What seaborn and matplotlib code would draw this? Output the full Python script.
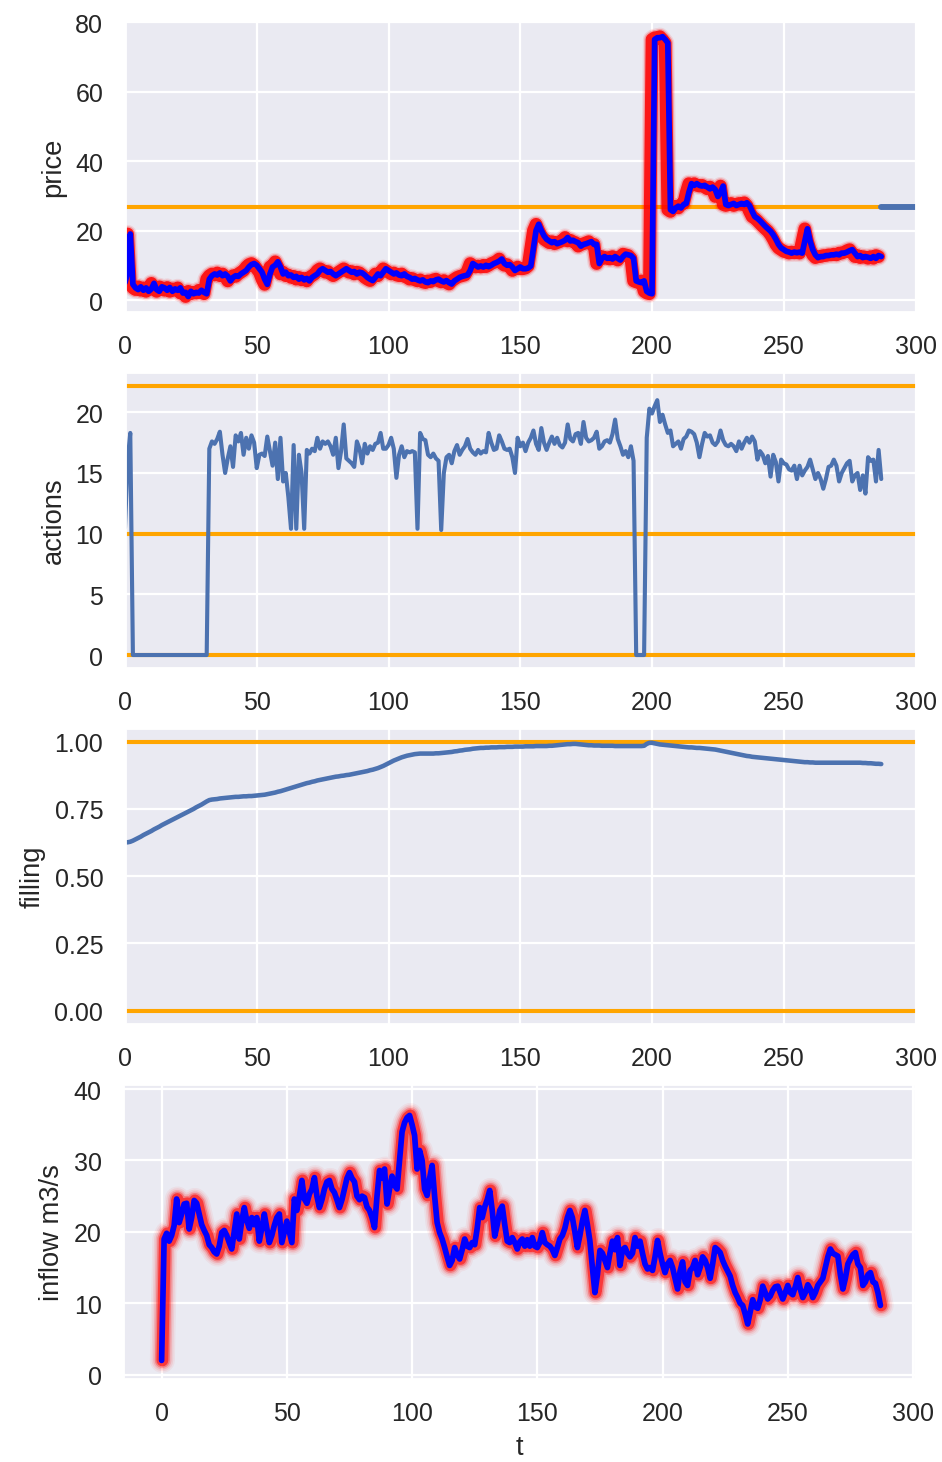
import numpy as np
import pandas as pd
import matplotlib
matplotlib.use("Agg")
import matplotlib.pyplot as plt
import seaborn as sns

# ---- spot price (blue) ----------------------------------------------------
price = [
    5.0, 8.0, 19.0, 4.5, 3.5, 3.0, 3.8, 2.8, 3.5, 2.5, 3.2, 4.8,
    3.0, 2.5, 3.8, 3.5, 2.8, 3.6, 2.5, 3.2, 2.8, 3.5, 2.0, 2.2,
    1.0, 2.5, 1.8, 2.2, 2.0, 2.8, 2.2, 1.8, 6.0, 7.0, 7.5, 7.2,
    7.8, 7.0, 7.5, 6.8, 5.5, 6.5, 7.0, 6.8, 7.5, 8.0, 8.5, 9.5,
    10.2, 10.5, 10.0, 9.0, 8.0, 6.0, 4.5, 7.5, 9.5, 10.0, 11.0, 9.5,
    7.5, 8.0, 7.0, 7.2, 6.5, 6.8, 6.0, 6.5, 5.8, 6.2, 5.5, 6.5,
    7.0, 7.5, 8.5, 9.0, 8.5, 8.0, 8.2, 7.5, 7.0, 7.5, 8.0, 8.5,
    9.0, 8.5, 8.0, 8.2, 7.5, 8.0, 7.8, 7.2, 6.5, 6.0, 5.6, 6.5,
    7.5, 7.0, 8.0, 9.0, 8.5, 8.0, 7.5, 7.8, 7.2, 7.0, 7.5, 6.8,
    6.5, 6.0, 6.2, 5.8, 5.5, 5.8, 5.2, 5.0, 5.5, 5.3, 5.8, 6.0,
    5.5, 5.2, 5.6, 5.0, 4.6, 5.5, 6.0, 6.5, 6.8, 7.0, 7.2, 8.5,
    10.5, 10.0, 9.5, 9.8, 9.5, 10.0, 9.6, 10.0, 10.5, 10.8, 11.2, 11.8,
    10.5, 10.0, 10.2, 9.5, 8.5, 9.0, 9.5, 9.0, 9.0, 9.2, 9.8, 15.0,
    20.0, 21.8, 20.0, 18.5, 17.5, 17.0, 16.5, 16.8, 16.2, 16.5, 16.8, 17.2,
    18.0, 17.0, 17.2, 16.8, 16.5, 15.5, 16.0, 16.2, 16.5, 16.8, 16.0, 16.0,
    10.5, 12.0, 12.5, 12.0, 12.2, 11.8, 12.5, 12.0, 11.5, 12.5, 13.2, 13.0,
    12.8, 12.0, 5.5, 5.2, 5.0, 5.5, 2.5, 2.0, 1.8, 75.0, 75.5, 75.5,
    75.8, 75.0, 74.0, 26.0, 25.5, 26.5, 27.0, 26.5, 27.5, 27.8, 31.0, 33.5,
    33.0, 33.5, 33.0, 32.8, 33.0, 32.5, 32.0, 32.5, 31.8, 29.8, 31.0, 32.8,
    27.5, 27.2, 27.5, 27.8, 27.2, 27.5, 27.8, 27.5, 28.0, 27.2, 25.5, 24.0,
    23.5, 22.8, 22.0, 21.2, 20.5, 19.8, 18.8, 17.5, 16.0, 15.0, 14.5, 14.0,
    13.8, 13.5, 13.8, 13.6, 13.8, 13.5, 17.0, 20.5, 17.0, 14.5, 13.0, 12.2,
    12.5, 12.5, 12.8, 12.8, 13.0, 13.0, 13.2, 13.0, 13.5, 13.5, 13.8, 14.2,
    14.5, 13.5, 12.5, 12.8, 12.2, 12.5, 12.3, 12.0, 12.5, 12.0, 12.8, 12.5,
]
price_ref = 26.8            # reference price level
price_tail_t = [287, 300]   # horizon beyond the simulated period

# ---- turbine actions ------------------------------------------------------
actions = [
    10.5, 16.0, 18.3, 0, 0, 0, 0, 0, 0, 0, 0, 0,
    0, 0, 0, 0, 0, 0, 0, 0, 0, 0, 0, 0,
    0, 0, 0, 0, 0, 0, 0, 0, 17.0, 17.6, 17.4, 17.8,
    18.4, 16.5, 15.0, 16.2, 17.2, 15.5, 18.1, 17.6, 18.3, 16.5, 17.9, 17.0,
    18.1, 17.5, 15.4, 16.5, 16.6, 16.4, 18.0, 16.8, 15.6, 17.5, 14.5, 17.9,
    14.3, 15.0, 13.0, 10.4, 17.3, 10.4, 16.5, 15.0, 10.4, 16.9, 16.6, 17.0,
    16.8, 17.9, 17.0, 17.6, 17.4, 17.6, 17.2, 16.5, 17.9, 15.4, 16.8, 19.0,
    16.2, 16.0, 15.8, 15.5, 17.6, 17.0, 15.8, 17.4, 16.6, 17.2, 16.9, 17.4,
    17.5, 18.3, 17.0, 17.0, 17.3, 17.9, 17.0, 14.6, 16.5, 17.2, 16.3, 16.8,
    16.7, 16.8, 16.7, 10.4, 18.3, 17.8, 17.7, 16.5, 16.3, 16.6, 16.2, 16.0,
    10.3, 15.0, 16.3, 16.5, 15.8, 16.8, 17.3, 16.5, 16.9, 17.2, 17.8, 17.0,
    16.7, 16.5, 16.9, 16.6, 16.8, 16.7, 18.3, 17.5, 16.9, 17.0, 18.1, 17.6,
    17.0, 16.9, 17.0, 16.3, 15.0, 17.9, 17.2, 17.5, 16.8, 17.5, 17.9, 18.5,
    17.4, 16.9, 18.7, 17.5, 16.9, 17.5, 18.0, 17.4, 17.9, 17.3, 17.1, 17.5,
    19.0, 17.8, 17.6, 18.2, 18.3, 17.4, 19.2, 17.9, 17.6, 17.7, 17.9, 18.4,
    17.0, 17.2, 17.6, 17.7, 17.5, 18.2, 19.4, 17.8, 17.2, 16.5, 16.8, 16.3,
    17.2, 16.0, 0, 0, 0, 0, 17.9, 20.3, 19.9, 20.5, 21.0, 19.2,
    19.8, 19.0, 18.3, 18.5, 17.2, 17.4, 17.6, 17.0, 17.8, 18.0, 18.5, 18.4,
    18.2, 17.5, 16.3, 17.4, 18.3, 18.0, 18.1, 17.5, 17.3, 17.6, 18.5, 17.7,
    17.3, 17.2, 17.4, 17.2, 16.8, 17.6, 17.0, 17.5, 17.9, 17.5, 18.0, 17.6,
    16.1, 16.8, 16.5, 15.8, 16.4, 14.7, 16.5, 15.9, 14.3, 16.1, 15.8, 15.7,
    15.3, 15.2, 15.6, 14.5, 15.6, 14.8, 15.2, 15.5, 16.1, 15.3, 14.5, 15.0,
    14.5, 13.7, 14.5, 15.5, 15.6, 16.1, 15.6, 14.3, 15.0, 15.4, 15.8, 16.0,
    14.3, 14.8, 15.0, 13.6, 14.8, 13.3, 16.3, 16.0, 16.1, 14.3, 16.9, 14.5,
]
action_levels = [0, 10, 22.2]   # min, nominal, max turbine flow

# ---- reservoir filling ----------------------------------------------------
filling = [
    0.626, 0.626, 0.628, 0.632, 0.637, 0.642, 0.647, 0.653, 0.658, 0.663, 0.668, 0.674,
    0.679, 0.684, 0.690, 0.695, 0.700, 0.705, 0.710, 0.715, 0.720, 0.725, 0.730, 0.735,
    0.740, 0.745, 0.750, 0.756, 0.761, 0.766, 0.772, 0.778, 0.783, 0.785, 0.786, 0.787,
    0.789, 0.790, 0.791, 0.792, 0.793, 0.794, 0.795, 0.795, 0.796, 0.797, 0.797, 0.798,
    0.798, 0.799, 0.800, 0.801, 0.802, 0.803, 0.805, 0.807, 0.809, 0.811, 0.814, 0.816,
    0.819, 0.822, 0.825, 0.828, 0.831, 0.834, 0.837, 0.840, 0.843, 0.846, 0.848, 0.851,
    0.853, 0.856, 0.858, 0.860, 0.862, 0.864, 0.866, 0.868, 0.870, 0.871, 0.873, 0.874,
    0.876, 0.877, 0.879, 0.881, 0.883, 0.885, 0.887, 0.889, 0.891, 0.894, 0.896, 0.899,
    0.902, 0.906, 0.910, 0.915, 0.920, 0.925, 0.930, 0.934, 0.938, 0.942, 0.945, 0.948,
    0.950, 0.952, 0.954, 0.955, 0.956, 0.956, 0.956, 0.956, 0.956, 0.956, 0.957, 0.957,
    0.958, 0.959, 0.960, 0.961, 0.962, 0.964, 0.965, 0.967, 0.968, 0.970, 0.971, 0.972,
    0.974, 0.975, 0.976, 0.977, 0.977, 0.978, 0.978, 0.979, 0.979, 0.979, 0.980, 0.980,
    0.980, 0.981, 0.981, 0.981, 0.982, 0.982, 0.982, 0.982, 0.983, 0.983, 0.983, 0.983,
    0.984, 0.984, 0.984, 0.984, 0.984, 0.985, 0.985, 0.986, 0.987, 0.988, 0.989, 0.990,
    0.991, 0.991, 0.992, 0.992, 0.991, 0.990, 0.989, 0.988, 0.987, 0.987, 0.986, 0.986,
    0.986, 0.985, 0.985, 0.985, 0.985, 0.985, 0.984, 0.984, 0.984, 0.984, 0.984, 0.984,
    0.984, 0.984, 0.984, 0.984, 0.984, 0.985, 0.992, 0.996, 0.996, 0.994, 0.992, 0.990,
    0.989, 0.988, 0.987, 0.986, 0.985, 0.984, 0.983, 0.982, 0.981, 0.980, 0.979, 0.979,
    0.978, 0.977, 0.977, 0.976, 0.975, 0.974, 0.973, 0.972, 0.971, 0.969, 0.967, 0.965,
    0.963, 0.961, 0.959, 0.957, 0.955, 0.953, 0.951, 0.949, 0.947, 0.946, 0.944, 0.943,
    0.942, 0.941, 0.940, 0.939, 0.938, 0.937, 0.936, 0.935, 0.934, 0.933, 0.932, 0.931,
    0.930, 0.929, 0.928, 0.927, 0.926, 0.925, 0.924, 0.924, 0.923, 0.923, 0.922, 0.922,
    0.922, 0.922, 0.922, 0.922, 0.922, 0.922, 0.922, 0.922, 0.922, 0.922, 0.922, 0.922,
    0.922, 0.922, 0.922, 0.922, 0.921, 0.921, 0.920, 0.920, 0.919, 0.918, 0.918, 0.917,
]
filling_levels = [0.0, 1.0]

# ---- inflow ---------------------------------------------------------------
inflow = [
    2.0, 19.0, 19.8, 18.7, 19.5, 20.9, 24.6, 21.3, 22.5, 23.9, 24.0, 20.4,
    22.0, 24.4, 24.0, 22.5, 21.0, 20.2, 19.5, 18.2, 17.8, 17.2, 16.9, 18.0,
    19.9, 20.2, 19.5, 18.5, 17.6, 20.0, 22.5, 19.0, 21.5, 23.4, 21.6, 20.5,
    22.0, 21.0, 22.0, 18.7, 20.5, 22.5, 20.5, 18.5, 19.5, 20.9, 22.0, 22.5,
    18.5, 20.0, 21.5, 20.0, 18.5, 24.6, 23.0, 25.0, 27.2, 24.6, 24.0, 25.3,
    26.0, 27.6, 25.0, 23.4, 24.5, 26.0, 27.0, 27.2, 26.0, 25.5, 24.5, 23.4,
    24.5, 26.0, 27.5, 28.3, 27.5, 27.0, 25.0, 24.5, 25.0, 24.8, 23.5, 23.0,
    22.0, 20.6, 25.0, 28.6, 27.5, 28.8, 23.9, 26.0, 27.8, 26.5, 26.0, 30.0,
    34.0, 35.3, 36.0, 36.3, 35.0, 33.5, 28.8, 31.4, 30.0, 26.0, 25.1, 27.5,
    29.3, 25.0, 21.3, 19.9, 19.0, 17.8, 16.5, 15.3, 16.0, 17.8, 16.8, 16.2,
    17.5, 19.0, 18.0, 17.8, 18.5, 18.2, 20.5, 23.4, 22.0, 23.5, 24.5, 25.8,
    23.0, 19.4, 21.0, 23.0, 23.6, 21.0, 18.7, 18.5, 19.2, 18.5, 17.6, 18.6,
    19.0, 18.0, 18.9, 18.0, 19.2, 18.0, 17.8, 18.5, 19.9, 18.5, 18.2, 18.0,
    17.5, 16.7, 17.8, 19.0, 19.5, 20.5, 22.0, 23.0, 22.0, 20.0, 17.8, 19.5,
    21.5, 23.0, 21.0, 18.7, 15.0, 11.5, 14.0, 17.4, 17.0, 16.0, 15.0, 17.0,
    18.7, 17.5, 19.2, 15.3, 17.5, 17.8, 17.0, 16.5, 17.0, 19.2, 18.0, 18.7,
    17.0, 15.5, 14.8, 15.0, 14.6, 16.5, 18.8, 17.0, 15.5, 14.3, 15.5, 16.0,
    15.0, 13.5, 12.0, 14.5, 15.8, 13.0, 12.5, 14.6, 15.0, 16.0, 14.0, 15.0,
    16.5, 16.0, 15.0, 13.5, 15.5, 17.8, 17.5, 17.1, 16.0, 15.2, 14.5, 13.8,
    12.5, 11.5, 10.8, 10.0, 9.7, 8.5, 7.1, 8.8, 10.5, 9.5, 9.3, 10.5,
    12.4, 11.5, 10.6, 11.0, 11.8, 12.3, 12.4, 11.5, 10.6, 11.5, 12.5, 11.5,
    11.2, 12.3, 13.6, 12.0, 10.8, 11.5, 12.6, 12.0, 10.8, 11.5, 12.5, 13.0,
    13.5, 15.0, 16.5, 17.6, 17.0, 16.8, 16.6, 14.0, 12.0, 13.5, 15.5, 16.2,
    16.8, 17.1, 15.5, 15.0, 12.5, 13.0, 14.0, 14.3, 13.0, 12.8, 11.5, 9.7,
]


def frame(values, name):
    """Time-indexed table for one series (t = 0, 1, 2, ...)."""
    return pd.DataFrame({"t": np.arange(len(values)), name: values})


df_price = frame(price, "price")
df_actions = frame(actions, "actions")
df_filling = frame(filling, "filling")
df_inflow = frame(inflow, "inflow")

# ---- style ----------------------------------------------------------------
sns.set_theme(style="darkgrid", context="notebook")
plt.rcParams["font.family"] = ["Liberation Sans", "DejaVu Sans"]

DPI = 164
fig = plt.figure(figsize=(942 / DPI, 1463 / DPI), dpi=DPI)
ax1 = fig.add_axes([0.1327, 0.78606, 0.83917, 0.19911])
ax2 = fig.add_axes([0.1327, 0.54272, 0.83917, 0.20232])
ax3 = fig.add_axes([0.1327, 0.29938, 0.83917, 0.20212])
ax4 = fig.add_axes([0.13089, 0.05673, 0.84045, 0.20164])

C0 = sns.color_palette("deep")[0]
LEVEL_LW = 1.8


def halo(ax, x, y, layers):
    """Soft red envelope drawn under a series."""
    for lw, a in layers:
        sns.lineplot(x=x, y=y, ax=ax, color="red", lw=lw, alpha=a,
                     solid_capstyle="round", solid_joinstyle="round")


# price
halo(ax1, df_price["t"] - 1, df_price["price"],
     [(8.0, 0.10), (6.8, 0.25), (5.6, 0.85)])
sns.lineplot(data=df_price, x="t", y="price", ax=ax1, color="blue", lw=2.5,
             solid_joinstyle="round", solid_capstyle="round")
ax1.axhline(price_ref, color="orange", lw=LEVEL_LW, zorder=1.5)
sns.lineplot(x=price_tail_t, y=[price_ref] * len(price_tail_t), ax=ax1,
             color=C0, lw=2.6, solid_capstyle="round")
ax1.set_xlim(0, 300)
ax1.set_ylim(-3.45, 80.4)
ax1.set_yticks([0, 20, 40, 60, 80])
ax1.set_ylabel("price")
ax1.set_xlabel("")

# actions
for lvl in action_levels:
    ax2.axhline(lvl, color="orange", lw=LEVEL_LW)
sns.lineplot(data=df_actions, x="t", y="actions", ax=ax2, color=C0, lw=1.8)
ax2.set_xlim(0, 300)
ax2.set_ylim(-1.07, 23.32)
ax2.set_yticks([0, 5, 10, 15, 20])
ax2.set_ylabel("actions")
ax2.set_xlabel("")

# filling
for lvl in filling_levels:
    ax3.axhline(lvl, color="orange", lw=LEVEL_LW)
sns.lineplot(data=df_filling, x="t", y="filling", ax=ax3, color=C0, lw=2.0)
ax3.set_xlim(0, 300)
ax3.set_ylim(-0.05, 1.05)
ax3.set_yticks([0, 0.25, 0.5, 0.75, 1.0])
ax3.yaxis.set_major_formatter(matplotlib.ticker.FormatStrFormatter("%.2f"))
ax3.set_ylabel("filling")
ax3.set_xlabel("")

# inflow
halo(ax4, df_inflow["t"] + 0.3, df_inflow["inflow"],
     [(11.0, 0.05), (9.5, 0.08), (8.0, 0.14), (6.6, 0.28), (5.2, 0.55)])
sns.lineplot(data=df_inflow, x="t", y="inflow", ax=ax4, color="blue", lw=2.5,
             solid_joinstyle="round", solid_capstyle="round")
ax4.set_xlim(-15.3, 300.8)
ax4.set_ylim(-0.6, 40.7)
ax4.set_yticks([0, 10, 20, 30, 40])
ax4.set_ylabel("inflow m3/s")
ax4.set_xlabel("t")

for ax in (ax1, ax2, ax3, ax4):
    ax.set_xticks([0, 50, 100, 150, 200, 250, 300])

fig.savefig("out.png", dpi=DPI)
